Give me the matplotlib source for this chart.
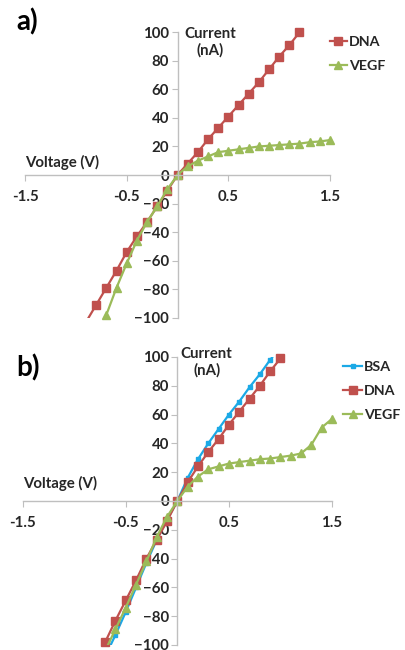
import matplotlib
matplotlib.use('Agg')
import matplotlib.pyplot as plt

plt.rcParams['font.family'] = ['Lato', 'DejaVu Sans']
plt.rcParams['font.weight'] = 'bold'

# panel a
a_dna_v = [-0.9, -0.8, -0.7, -0.6, -0.5, -0.4, -0.3, -0.2, -0.1, 0.0, 0.1, 0.2,
           0.3, 0.4, 0.5, 0.6, 0.7, 0.8, 0.9, 1.0, 1.1, 1.2]
a_dna_i = [-103, -91, -79, -67, -54, -43, -33, -22, -11, 0, 8, 16,
           25, 33, 41, 49, 57, 65, 74, 83, 91, 100]
a_vegf_v = [-0.7, -0.6, -0.5, -0.4, -0.3, -0.2, -0.1, 0.0, 0.1, 0.2, 0.3, 0.4,
            0.5, 0.6, 0.7, 0.8, 0.9, 1.0, 1.1, 1.2, 1.3, 1.4, 1.5]
a_vegf_i = [-98, -79, -62, -46, -33, -22, -10, 0, 6, 10, 13, 16,
            17, 18, 19, 20, 20.5, 21, 21.5, 22, 23, 23.5, 24.5]

# panel b
b_bsa_v = [-0.7, -0.6, -0.5, -0.4, -0.3, -0.2, -0.1, 0.0, 0.1, 0.2, 0.3, 0.4,
           0.5, 0.6, 0.7, 0.8, 0.9, 1.0]
b_bsa_i = [-108, -93, -77, -60, -43, -27, -13, 0, 16, 29, 40, 50,
           60, 69, 79, 88, 98, 107]
b_dna_v = [-0.7, -0.6, -0.5, -0.4, -0.3, -0.2, -0.1, 0.0, 0.1, 0.2, 0.3, 0.4,
           0.5, 0.6, 0.7, 0.8, 0.9, 1.0]
b_dna_i = [-98, -83, -69, -55, -40, -27, -14, 0, 13, 24, 34, 43,
           53, 62, 71, 80, 90, 99]
b_vegf_v = [-0.7, -0.6, -0.5, -0.4, -0.3, -0.2, -0.1, 0.0, 0.1, 0.2, 0.3, 0.4,
            0.5, 0.6, 0.7, 0.8, 0.9, 1.0, 1.1, 1.2, 1.3, 1.4, 1.5]
b_vegf_i = [-104, -89, -74, -58, -42, -25, -11, 0, 10, 17, 22, 24,
            26, 27, 28, 29, 29.5, 30.5, 31.5, 33, 39, 51, 57]

x_ticks = [-1.5, -0.5, 0.5, 1.5]
y_ticks = [-100, -80, -60, -40, -20, 0, 20, 40, 60, 80, 100]

red = '#C0504D'
green = '#9BBB59'
blue = '#1BA9E6'
grey = '#BFBFBF'
txt = '#262626'
fs = 10.8

fig = plt.figure(figsize=(4.06, 6.5), dpi=100)


def setup(ax):
    ax.set_xlim(-1.5, 1.5)
    ax.set_ylim(-100, 100)
    ax.spines['top'].set_visible(False)
    ax.spines['right'].set_visible(False)
    ax.spines['left'].set_position(('data', 0))
    ax.spines['bottom'].set_position(('data', 0))
    for s in ['left', 'bottom']:
        ax.spines[s].set_color(grey)
        ax.spines[s].set_linewidth(1)
    ax.set_xticks(x_ticks)
    ax.set_yticks(y_ticks)
    ax.set_xticklabels(['-1.5', '-0.5', '0.5', '1.5'])
    ax.tick_params(axis='x', direction='out', length=4, color=grey, pad=7,
                   labelsize=fs, labelcolor=txt)
    ax.tick_params(axis='y', direction='out', length=4, color=grey, pad=2,
                   labelsize=fs, labelcolor=txt)
    ax.patch.set_alpha(0)


def series(ax, v, i, **kw):
    # line clipped to the plot area, markers (only in range) not clipped
    ax.plot(v, i, color=kw['color'], lw=1.6)
    keep = [k for k, y in enumerate(i) if -100 <= y <= 100]
    ax.plot([v[k] for k in keep], [i[k] for k in keep], ls='none',
            marker=kw['marker'], ms=kw['ms'], color=kw['color'], clip_on=False)
    ax.plot([], [], color=kw['color'], lw=1.6, marker=kw['marker'],
            ms=kw['ms'], label=kw['label'])


# a)
ax1 = fig.add_axes([0.0616, 0.5112, 0.7512, 0.4391])
setup(ax1)
series(ax1, a_dna_v, a_dna_i, color=red, marker='s', ms=5.5, label='DNA')
series(ax1, a_vegf_v, a_vegf_i, color=green, marker='^', ms=5.5, label='VEGF')
ax1.text(0.32, 104, 'Current\n(nA)', ha='center', va='top', fontsize=fs,
         color=txt, linespacing=1.25, clip_on=False)
ax1.text(-1.5, 9, 'Voltage (V)', ha='left', va='center', fontsize=fs, color=txt)
ax1.legend(loc='upper left', bbox_to_anchor=(0.813, 0.945),
           bbox_transform=fig.transFigure, frameon=False, fontsize=10.3,
           handlelength=1.15, handletextpad=0.15, labelspacing=0.85,
           borderpad=0, borderaxespad=0, numpoints=1, labelcolor=txt)
fig.text(0.068, 0.966, 'a)', fontsize=20, ha='center', va='center', color='black')

# b)
ax2 = fig.add_axes([0.0559, 0.0077, 0.7618, 0.4431])
setup(ax2)
series(ax2, b_bsa_v, b_bsa_i, color=blue, marker='s', ms=3, label='BSA')
series(ax2, b_dna_v, b_dna_i, color=red, marker='s', ms=5.5, label='DNA')
series(ax2, b_vegf_v, b_vegf_i, color=green, marker='^', ms=5.5, label='VEGF')
ax2.text(0.285, 107, 'Current\n(nA)', ha='center', va='top', fontsize=fs,
         color=txt, linespacing=1.2, clip_on=False)
ax2.text(-1.5, 12.5, 'Voltage (V)', ha='left', va='center', fontsize=fs, color=txt)
ax2.legend(loc='upper left', bbox_to_anchor=(0.846, 0.445),
           bbox_transform=fig.transFigure, frameon=False, fontsize=10.3,
           handlelength=1.3, handletextpad=0.15, labelspacing=0.85,
           borderpad=0, borderaxespad=0, numpoints=1, labelcolor=txt)
fig.text(0.070, 0.434, 'b)', fontsize=20, ha='center', va='center', color='black')

fig.savefig('out.png', dpi=100)
